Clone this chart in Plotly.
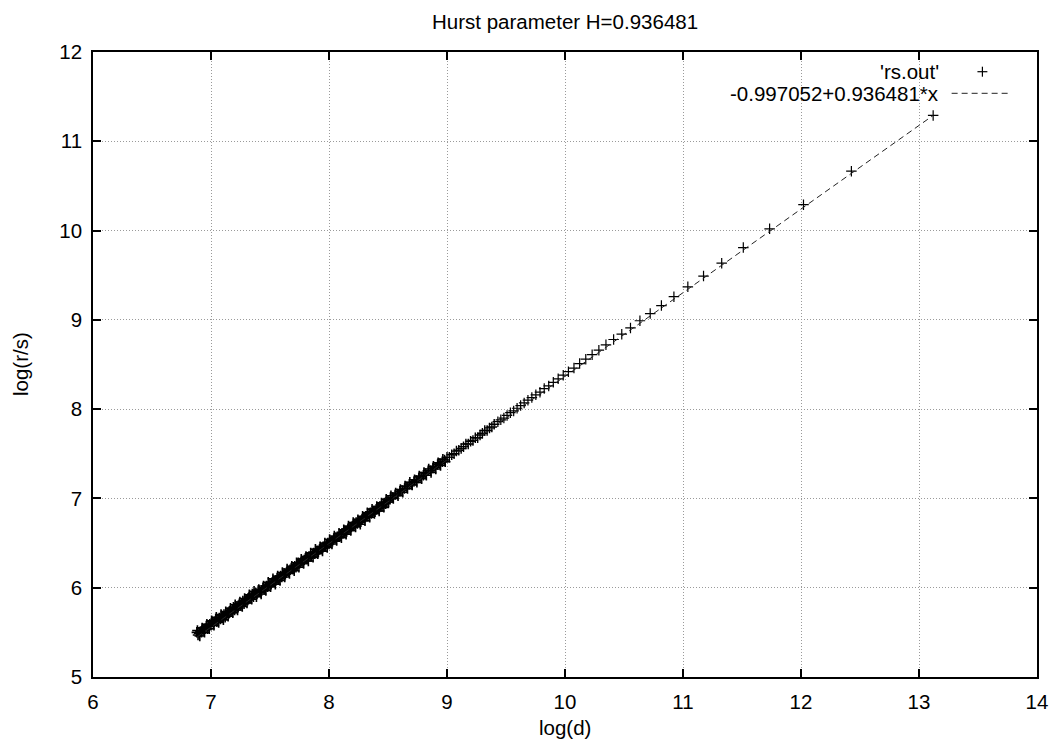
import plotly.graph_objects as go

# ---------------- data ----------------
dense_x = [6.88, 6.89, 6.90, 6.91, 6.92, 6.93, 6.94, 6.95, 6.96, 6.97, 6.98, 6.99,
           7.00, 7.01, 7.02, 7.03, 7.04, 7.05, 7.06, 7.07, 7.08, 7.09, 7.10,
           7.11, 7.12, 7.13, 7.14, 7.15, 7.16, 7.17, 7.18, 7.19, 7.20,
           7.21, 7.22, 7.23, 7.24, 7.25, 7.26, 7.27, 7.28, 7.29, 7.30,
           7.31, 7.32, 7.33, 7.34, 7.35, 7.36, 7.37, 7.38, 7.39, 7.40,
           7.41, 7.42, 7.43, 7.44, 7.45, 7.46, 7.47, 7.48, 7.49, 7.50,
           7.51, 7.52, 7.53, 7.54, 7.55, 7.56, 7.57, 7.58, 7.59, 7.60,
           7.61, 7.62, 7.63, 7.64, 7.65, 7.66, 7.67, 7.68, 7.69, 7.70,
           7.71, 7.72, 7.73, 7.74, 7.75, 7.76, 7.77, 7.78, 7.79, 7.80,
           7.81, 7.82, 7.83, 7.84, 7.85, 7.86, 7.87, 7.88, 7.89, 7.90,
           7.91, 7.92, 7.93, 7.94, 7.95, 7.96, 7.97, 7.98, 7.99, 8.00,
           8.01, 8.02, 8.03, 8.04, 8.05, 8.06, 8.07, 8.08, 8.09, 8.10,
           8.11, 8.12, 8.13, 8.14, 8.15, 8.16, 8.17, 8.18, 8.19, 8.20,
           8.21, 8.22, 8.23, 8.24, 8.25, 8.26, 8.27, 8.28, 8.29, 8.30,
           8.31, 8.32, 8.33, 8.34, 8.35, 8.36, 8.37, 8.38, 8.39, 8.40,
           8.41, 8.42, 8.43, 8.44, 8.45, 8.46, 8.47, 8.48, 8.49]
dense_y = [5.50, 5.47, 5.49, 5.51, 5.50, 5.54, 5.52, 5.54, 5.57, 5.54, 5.57, 5.59,
           5.58, 5.62, 5.60, 5.62, 5.65, 5.62, 5.64, 5.66, 5.65, 5.69, 5.67,
           5.70, 5.67, 5.70, 5.72, 5.71, 5.74, 5.73, 5.75, 5.78, 5.75,
           5.77, 5.79, 5.78, 5.82, 5.80, 5.82, 5.85, 5.82, 5.85, 5.87,
           5.86, 5.89, 5.88, 5.90, 5.93, 5.90, 5.92, 5.94, 5.93, 5.97,
           5.96, 5.95, 5.97, 6.00, 5.98, 6.00, 6.02, 6.01, 6.03, 6.05,
           6.04, 6.06, 6.07, 6.06, 6.08, 6.11, 6.10, 6.11, 6.13, 6.12,
           6.14, 6.16, 6.15, 6.17, 6.19, 6.18, 6.20, 6.22, 6.21, 6.22,
           6.24, 6.23, 6.25, 6.28, 6.27, 6.28, 6.30, 6.29, 6.31, 6.33,
           6.33, 6.33, 6.35, 6.35, 6.35, 6.38, 6.39, 6.38, 6.40, 6.41,
           6.40, 6.43, 6.44, 6.44, 6.46, 6.46, 6.46, 6.49, 6.50, 6.49,
           6.51, 6.52, 6.52, 6.55, 6.56, 6.55, 6.57, 6.57, 6.57, 6.60,
           6.61, 6.61, 6.63, 6.63, 6.63, 6.66, 6.67, 6.66, 6.68, 6.69,
           6.69, 6.72, 6.73, 6.72, 6.74, 6.74, 6.74, 6.77, 6.78, 6.78,
           6.80, 6.80, 6.80, 6.83, 6.84, 6.83, 6.85, 6.86, 6.85, 6.88,
           6.89, 6.89, 6.91, 6.91, 6.91, 6.94, 6.95, 6.94, 6.96]

# interleaved points of the thick low band (scatter around the trend)
band_x = [6.885, 6.905, 6.925, 6.945, 6.965, 6.985, 7.005, 7.025, 7.045, 7.065,
          7.085, 7.105, 7.125, 7.145, 7.165, 7.185, 7.205, 7.225, 7.245, 7.265,
          7.285, 7.305, 7.325, 7.345, 7.365, 7.385, 7.405, 7.425, 7.445, 7.465,
          7.485, 7.505, 7.525, 7.545, 7.565, 7.585, 7.605, 7.625, 7.645, 7.665,
          7.685, 7.705, 7.725, 7.745, 7.765, 7.785, 7.805, 7.825, 7.845, 7.865,
          7.885, 7.905, 7.925, 7.945, 7.965, 7.985, 8.005, 8.025, 8.045, 8.065,
          8.085, 8.105, 8.125, 8.145, 8.165, 8.185, 8.205, 8.225, 8.245, 8.265,
          8.285, 8.305, 8.325, 8.345, 8.365, 8.385, 8.405, 8.425, 8.445, 8.465,
          8.485, 8.505, 8.525, 8.545, 8.565, 8.585, 8.605, 8.625, 8.645, 8.665,
          8.685, 8.705, 8.725, 8.745, 8.765, 8.785, 8.805, 8.825, 8.845, 8.865,
          8.885, 8.905, 8.925, 8.945, 8.965, 8.985]
band_y = [5.52, 5.46, 5.55, 5.50, 5.59, 5.54, 5.63, 5.58, 5.67, 5.61,
          5.70, 5.64, 5.73, 5.68, 5.77, 5.72, 5.81, 5.75, 5.84, 5.79,
          5.88, 5.83, 5.92, 5.87, 5.96, 5.90, 5.98, 5.93, 6.02, 5.97,
          6.06, 6.01, 6.10, 6.04, 6.13, 6.08, 6.17, 6.12, 6.21, 6.16,
          6.24, 6.19, 6.28, 6.23, 6.32, 6.27, 6.35, 6.30, 6.39, 6.34,
          6.43, 6.38, 6.46, 6.41, 6.50, 6.45, 6.54, 6.49, 6.58, 6.53,
          6.61, 6.56, 6.65, 6.60, 6.69, 6.64, 6.73, 6.68, 6.76, 6.71,
          6.80, 6.75, 6.84, 6.79, 6.88, 6.83, 6.91, 6.86, 6.95, 6.90,
          6.99, 6.96, 7.03, 7.00, 7.06, 7.03, 7.10, 7.07, 7.14, 7.11,
          7.18, 7.15, 7.21, 7.18, 7.25, 7.22, 7.29, 7.26, 7.33, 7.29,
          7.36, 7.33, 7.40, 7.37, 7.44, 7.41]

mid_x = [8.50, 8.52, 8.54, 8.56, 8.58, 8.60, 8.62, 8.64, 8.66, 8.68,
         8.70, 8.72, 8.74, 8.76, 8.78, 8.80, 8.82, 8.84, 8.86, 8.88,
         8.90, 8.92, 8.94, 8.96, 8.98, 9.00, 9.02, 9.04, 9.06, 9.08,
         9.10, 9.12, 9.14, 9.16, 9.18, 9.20, 9.22, 9.24, 9.26, 9.28,
         9.30, 9.32, 9.34, 9.36, 9.38, 9.40]
mid_y = [6.98, 7.01, 7.01, 7.04, 7.05, 7.08, 7.09, 7.11, 7.13, 7.16,
         7.16, 7.19, 7.20, 7.23, 7.24, 7.26, 7.28, 7.31, 7.31, 7.34,
         7.35, 7.38, 7.39, 7.41, 7.43, 7.46, 7.46, 7.49, 7.50, 7.53,
         7.54, 7.56, 7.58, 7.61, 7.61, 7.64, 7.65, 7.68, 7.68, 7.71,
         7.73, 7.76, 7.76, 7.79, 7.80, 7.83]

sparse_x = [9.431, 9.456, 9.482, 9.509, 9.537, 9.565, 9.594, 9.624, 9.654, 9.686,
            9.719, 9.753, 9.788, 9.824, 9.862, 9.901, 9.942, 9.985, 10.029, 10.076,
            10.124, 10.176, 10.230, 10.287, 10.347, 10.412, 10.481, 10.555, 10.635, 10.722,
            10.817, 10.923, 11.041, 11.174, 11.328, 11.511, 11.734, 12.021, 12.427, 13.120]
sparse_y = [7.86, 7.88, 7.90, 7.93, 7.96, 7.98, 8.01, 8.04, 8.07, 8.10,
            8.13, 8.16, 8.19, 8.23, 8.26, 8.30, 8.34, 8.38, 8.42, 8.46,
            8.51, 8.56, 8.61, 8.66, 8.72, 8.78, 8.84, 8.91, 8.99, 9.07,
            9.16, 9.26, 9.37, 9.49, 9.635, 9.81, 10.02, 10.29, 10.665, 11.29]

fit_intercept = -0.997052
fit_slope = 0.936481

x_ticks = [6, 7, 8, 9, 10, 11, 12, 13, 14]
y_ticks = [5, 6, 7, 8, 9, 10, 11, 12]

title_text = "Hurst parameter H=0.936481"
x_title = "log(d)"
y_title = "log(r/s)"
legend_points = "'rs.out'"
legend_fit = "-0.997052+0.936481*x"

# ---------------- geometry ----------------
# The page body has an 8px margin, so the figure is drawn 8px in from the
# window's top-left corner; all target positions below are window pixels.
OFF = 8
WIN_W, WIN_H = 1060, 742
W, H = WIN_W - OFF, WIN_H - OFF
PLOT_L, PLOT_R, PLOT_T, PLOT_B = 93, 1044, 52, 677   # window pixels
L_M = PLOT_L - OFF
R_M = W - (PLOT_R - OFF)
T_M = PLOT_T - OFF
B_M = H - (PLOT_B - OFF)
PW, PH = PLOT_R - PLOT_L, PLOT_B - PLOT_T
FONT = "Liberation Sans, Arial, Helvetica, sans-serif"
FS = 20.5


def px_x(p):
    return (p - PLOT_L) / PW


def px_y(p):
    return (PLOT_B - p) / PH


fit_all_x = dense_x + band_x + mid_x + sparse_x
fit_x = [min(fit_all_x), max(fit_all_x)]
fit_y = [fit_intercept + fit_slope * v for v in fit_x]

fig = go.Figure()
# one data series ('rs.out'); the crowded low part is drawn with slightly
# heavier strokes so the overlapping crosses read as a solid band
for xs, ys, lw in [(dense_x + band_x, dense_y + band_y, 1.6),
                   (mid_x, mid_y, 1.4),
                   (sparse_x, sparse_y, 1.2)]:
    fig.add_trace(go.Scatter(
        x=xs, y=ys, mode="markers", name=legend_points, legendgroup="rs",
        marker=dict(symbol="cross-thin", size=7.5, line=dict(color="black", width=lw), color="black"),
        showlegend=False, hoverinfo="x+y",
    ))
fig.add_trace(go.Scatter(
    x=fit_x, y=fit_y, mode="lines", name=legend_fit,
    line=dict(color="#222222", width=1, dash="6px,4px"),
    showlegend=False,
))

axis_common = dict(
    showline=True, linecolor="black", linewidth=1.5, mirror="ticks",
    ticks="inside", ticklen=8, tickwidth=1.5, tickcolor="black",
    showgrid=True, gridcolor="#9a9a9a", gridwidth=1, griddash="1px,2px",
    zeroline=False,
    tickfont=dict(family=FONT, size=FS, color="black"),
)

fig.update_xaxes(range=[6, 14], tickvals=x_ticks, ticktext=[str(v) for v in x_ticks],
                 ticklabelstandoff=6, **axis_common)
fig.update_yaxes(range=[5, 12], tickvals=y_ticks, ticktext=[str(v) for v in y_ticks],
                 ticklabelstandoff=5, **axis_common)

# legend (gnuplot style: text right-aligned, sample on the right)
row1, row2 = 71.7, 93.3
text_right = 947
shapes = [
    dict(type="line", xref="paper", yref="paper",
         x0=px_x(984), x1=px_x(994), y0=px_y(row1), y1=px_y(row1),
         line=dict(color="black", width=1.2)),
    dict(type="line", xref="paper", yref="paper",
         x0=px_x(989), x1=px_x(989), y0=px_y(row1 - 5), y1=px_y(row1 + 5),
         line=dict(color="black", width=1.2)),
    dict(type="line", xref="paper", yref="paper",
         x0=px_x(958), x1=px_x(1018), y0=px_y(row2), y1=px_y(row2),
         line=dict(color="#222222", width=1, dash="6px,4px")),
]
text_font = dict(family=FONT, size=FS, color="black")
annotations = [
    dict(text=legend_points, xref="paper", yref="paper", x=px_x(text_right), y=px_y(row1),
         xanchor="right", yanchor="middle", showarrow=False, font=text_font),
    dict(text=legend_fit, xref="paper", yref="paper", x=px_x(text_right), y=px_y(row2),
         xanchor="right", yanchor="middle", showarrow=False, font=text_font),
    dict(text=x_title, xref="paper", yref="paper", x=px_x(568), y=px_y(727),
         xanchor="center", yanchor="middle", showarrow=False, font=text_font),
    dict(text=y_title, xref="paper", yref="paper", x=px_x(19.5), y=px_y(364),
         xanchor="center", yanchor="middle", showarrow=False, textangle=-90, font=text_font),
    dict(text=title_text, xref="paper", yref="paper", x=px_x(568), y=px_y(21.5),
         xanchor="center", yanchor="middle", showarrow=False, font=text_font),
]

fig.update_layout(
    width=W, height=H,
    margin=dict(l=L_M, r=R_M, t=T_M, b=B_M, pad=0),
    paper_bgcolor="white", plot_bgcolor="white",
    shapes=shapes, annotations=annotations,
    showlegend=False,
    font=text_font,
)

fig.write_html("out.html")
